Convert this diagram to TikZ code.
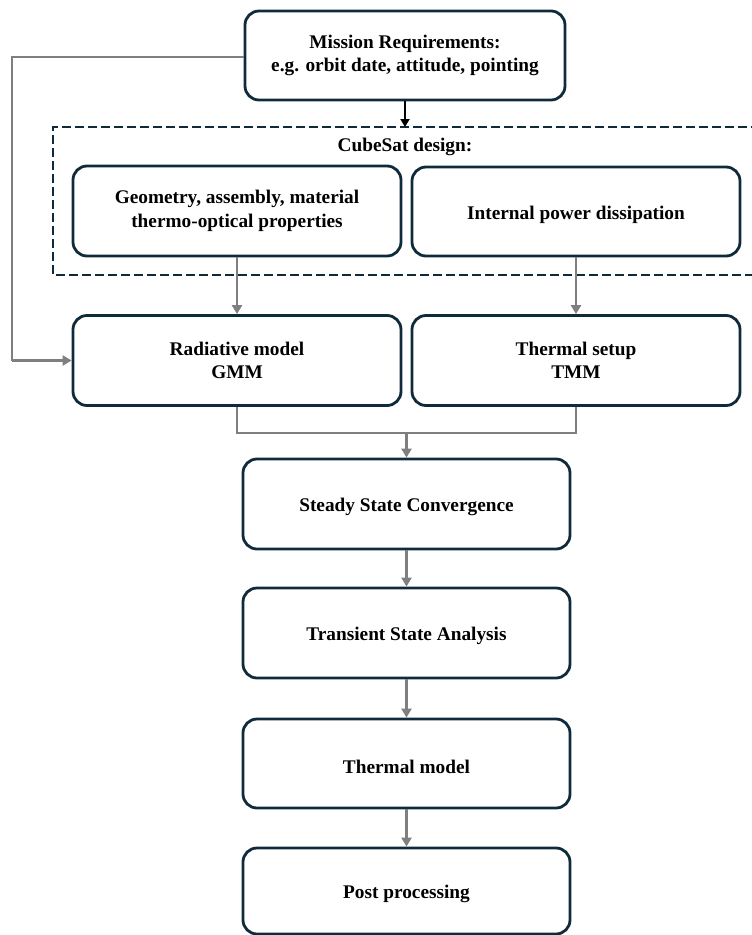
\documentclass[tikz,border=0pt]{standalone}
\usepackage{fontspec}
\setmainfont{Liberation Serif}
\usetikzlibrary{arrows.meta}
\definecolor{navy}{HTML}{0F2B3B}
\definecolor{conn}{HTML}{7F7F7F}
\tikzset{
  box/.style={draw=navy, line width=2.8pt, rounded corners=14pt, align=center, inner sep=0pt,
    font=\fontsize{19.3}{23.5}\selectfont\bfseries,
    execute at begin node={\rule{0pt}{20pt}}},
  gline/.style={draw=conn, line width=2.6pt},
  garrow/.style={gline, -{Triangle[length=9pt,width=10pt]}},
  barrow/.style={draw=black, line width=2.2pt, -{Triangle[length=8pt,width=9pt]}},
  dashbox/.style={draw=navy, line width=2.6pt, dash pattern=on 9pt off 4pt},
  lbl/.style={font=\fontsize{19.3}{23.5}\selectfont\bfseries, inner sep=0pt}
}
\begin{document}
\begin{tikzpicture}[x=1pt,y=-1pt]
\useasboundingbox (0,0) rectangle (752,935);
\clip (0,0) rectangle (752,935);
% dashed group
\draw[dashbox] (760,127) -- (53,127) -- (53,275) -- (760,275);
\node[lbl] (cubesat) at (405,147) {CubeSat design:};
% nodes
\node[box, minimum width=320pt, minimum height=89pt] (mission) at (405,55.5) {Mission Requirements:\\e.g. orbit date, attitude, pointing};
\node[box, minimum width=328pt, minimum height=90pt] (geom) at (237,211) {Geometry, assembly, material\\thermo-optical properties};
\node[box, minimum width=328pt, minimum height=89pt] (power) at (576,211.5) {Internal power dissipation};
\node[box, minimum width=328pt, minimum height=90pt] (rad) at (237,360.5) {Radiative model\\GMM};
\node[box, minimum width=328pt, minimum height=90pt] (tsetup) at (576,360.5) {Thermal setup\\TMM};
\node[box, minimum width=327pt, minimum height=90pt] (steady) at (406.5,504) {Steady State Convergence};
\node[box, minimum width=327pt, minimum height=90pt] (trans) at (406.5,633) {Transient State Analysis};
\node[box, minimum width=327pt, minimum height=89pt] (tmodel) at (406.5,763.5) {Thermal model};
\node[box, minimum width=327pt, minimum height=86pt] (post) at (406.5,891) {Post processing};
% coordinates
\coordinate (dtop) at (405,127);
\coordinate (fb1) at (12,57);
\coordinate (fb2) at (12,360.5);
\coordinate (mL) at (237,433);
\coordinate (mR) at (576,433);
\coordinate (mC) at (406.5,433);
% connectors
\draw[barrow] (mission.south) -- (dtop);
\draw[gline] (mission.west |- fb1) -- (fb1) -- (fb2);
\draw[garrow] (fb2) -- (rad.west);
\draw[garrow] (geom.south) -- (rad.north);
\draw[garrow] (power.south) -- (tsetup.north);
\draw[gline] (rad.south) -- (mL) -- (mR) -- (tsetup.south);
\draw[garrow] (mC) -- (steady.north);
\draw[garrow] (steady.south) -- (trans.north);
\draw[garrow] (trans.south) -- (tmodel.north);
\draw[garrow] (tmodel.south) -- (post.north);
\end{tikzpicture}
\end{document}
